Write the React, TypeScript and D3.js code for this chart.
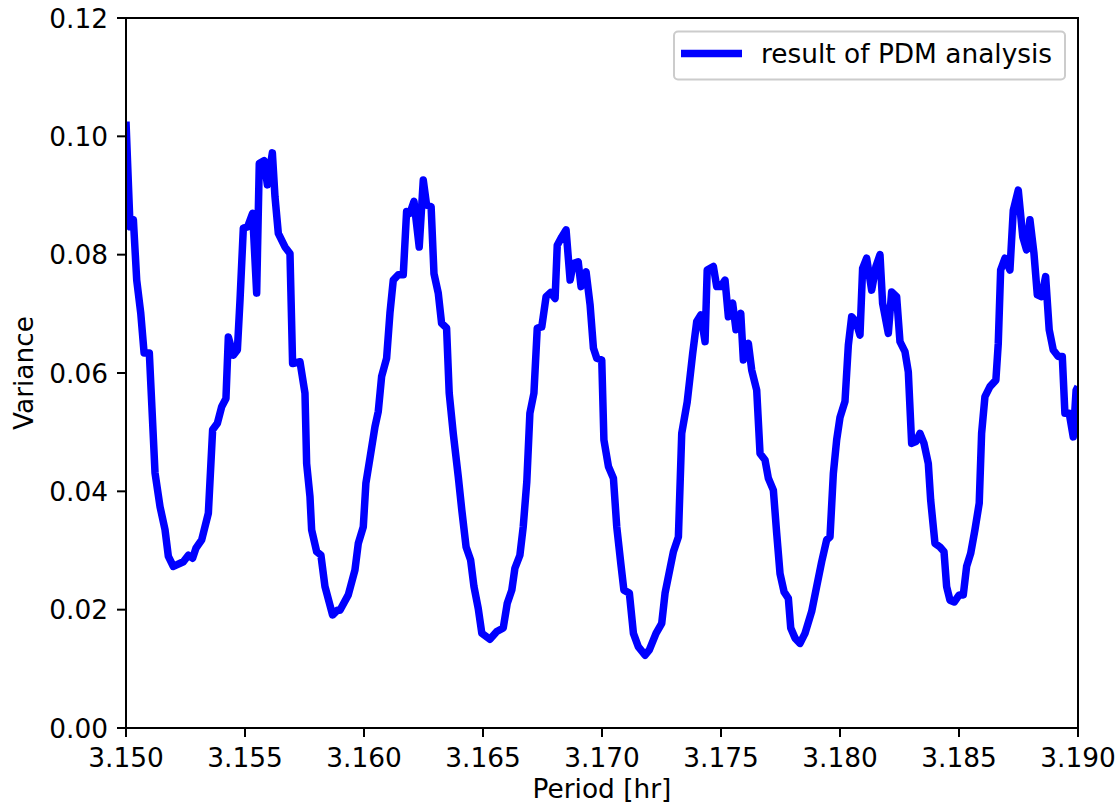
import React from "react";
import * as d3 from "d3";

const periods = [
  3.15, 3.15017, 3.15031, 3.15045, 3.15062, 3.15076, 3.15098, 3.15122, 3.15143, 3.15164,
  3.15178, 3.15199, 3.15241, 3.15262, 3.1528, 3.15294, 3.15318, 3.15346, 3.15364, 3.15384,
  3.15402, 3.1542, 3.1543, 3.15451, 3.15468, 3.15479, 3.15493, 3.15511, 3.15532, 3.15549,
  3.1556, 3.1558, 3.15594, 3.15615, 3.15626, 3.1564, 3.15668, 3.15689, 3.157, 3.15731,
  3.15752, 3.15759, 3.15773, 3.1578, 3.15801, 3.15819, 3.15836, 3.15868, 3.15888, 3.15899,
  3.15934, 3.15962, 3.15976, 3.15997, 3.16008, 3.16025, 3.16046, 3.1606, 3.16074, 3.16095,
  3.16109, 3.16123, 3.16144, 3.16165, 3.16179, 3.16193, 3.1621, 3.16232, 3.16249, 3.16263,
  3.16282, 3.16294, 3.16312, 3.16326, 3.16347, 3.16358, 3.16375, 3.16396, 3.16411, 3.16429,
  3.16448, 3.16462, 3.1648, 3.16495, 3.16529, 3.16558, 3.16585, 3.16602, 3.16621, 3.16634,
  3.16655, 3.16669, 3.16684, 3.16697, 3.16714, 3.16728, 3.16747, 3.16765, 3.16784, 3.16803,
  3.16812, 3.16831, 3.16849, 3.16866, 3.16879, 3.169, 3.16912, 3.16933, 3.1695, 3.16964,
  3.16978, 3.16999, 3.17008, 3.17027, 3.17048, 3.17062, 3.17079, 3.17092, 3.17115, 3.17132,
  3.17153, 3.17181, 3.17199, 3.17227, 3.17251, 3.17265, 3.17286, 3.173, 3.17321, 3.17335,
  3.17358, 3.17381, 3.17398, 3.17415, 3.17433, 3.17442, 3.17468, 3.17482, 3.17499, 3.17517,
  3.17531, 3.17549, 3.17563, 3.17583, 3.17594, 3.17615, 3.17629, 3.1765, 3.17664, 3.17685,
  3.17699, 3.1772, 3.17734, 3.17748, 3.17765, 3.17783, 3.17793, 3.17811, 3.17832, 3.17853,
  3.17881, 3.17902, 3.17923, 3.17944, 3.17958, 3.17972, 3.17986, 3.18, 3.18021, 3.18035,
  3.18049, 3.18067, 3.18084, 3.18095, 3.18112, 3.18133, 3.18151, 3.18168, 3.18179, 3.18203,
  3.18217, 3.18238, 3.18252, 3.18273, 3.18287, 3.18301, 3.18319, 3.18336, 3.18353, 3.18371,
  3.18381, 3.18399, 3.1842, 3.18437, 3.18448, 3.18462, 3.1848, 3.18501, 3.18518, 3.18532,
  3.18549, 3.18567, 3.18585, 3.18595, 3.18609, 3.1863, 3.18655, 3.18665, 3.18675, 3.18693,
  3.18714, 3.18728, 3.18749, 3.18768, 3.18784, 3.18798, 3.18815, 3.18829, 3.18847, 3.18864,
  3.18879, 3.18896, 3.18917, 3.18934, 3.18945, 3.18963, 3.1898, 3.18992, 3.19,
];

const variances = [
  0.1025, 0.0847, 0.0859, 0.0757, 0.0701, 0.0634, 0.0634, 0.0431, 0.0374, 0.0335,
  0.029, 0.0273, 0.0281, 0.0292, 0.0287, 0.0304, 0.0318, 0.0363, 0.0504, 0.0515,
  0.0543, 0.0557, 0.0661, 0.063, 0.0639, 0.0723, 0.0845, 0.0847, 0.087, 0.0735,
  0.0954, 0.0959, 0.0918, 0.0972, 0.0898, 0.0836, 0.0813, 0.0802, 0.0616, 0.0619,
  0.0566, 0.0447, 0.0391, 0.0335, 0.0298, 0.0292, 0.0239, 0.0191, 0.0199, 0.0199,
  0.0225, 0.0267, 0.0312, 0.034, 0.0414, 0.0456, 0.0509, 0.0535, 0.0594, 0.0625,
  0.0701, 0.0757, 0.0766, 0.0766, 0.0873, 0.087, 0.089, 0.0813, 0.0926, 0.0884,
  0.0881, 0.0768, 0.0735, 0.0684, 0.0676, 0.0566, 0.0498, 0.0425, 0.0368, 0.0306,
  0.0284, 0.0239, 0.0202, 0.016, 0.015, 0.0163, 0.0169, 0.0211, 0.0233, 0.027,
  0.0292, 0.034, 0.0416, 0.0532, 0.0566, 0.0676, 0.0678, 0.0729, 0.0736, 0.0726,
  0.0816, 0.083, 0.0842, 0.0757, 0.0785, 0.0788, 0.0746, 0.0771, 0.0715, 0.0642,
  0.0625, 0.0622, 0.0487, 0.0442, 0.0422, 0.034, 0.0278, 0.0233, 0.0228, 0.016,
  0.0137, 0.0123, 0.0132, 0.016, 0.0177, 0.0228, 0.027, 0.0298, 0.0323, 0.0498,
  0.0551, 0.0633, 0.0687, 0.0698, 0.0653, 0.0774, 0.078, 0.0746, 0.0746, 0.0757,
  0.0695, 0.0718, 0.0673, 0.0701, 0.0622, 0.065, 0.0605, 0.0571, 0.0464, 0.0453,
  0.0422, 0.0402, 0.0329, 0.0261, 0.023, 0.0219, 0.0169, 0.0152, 0.0143, 0.016,
  0.0197, 0.0239, 0.0281, 0.0318, 0.0323, 0.043, 0.0487, 0.0525, 0.0552, 0.0647,
  0.0695, 0.0687, 0.0664, 0.0777, 0.0794, 0.074, 0.078, 0.08, 0.0718, 0.0667,
  0.0737, 0.0729, 0.0653, 0.0636, 0.0602, 0.0481, 0.0484, 0.0498, 0.0481, 0.0447,
  0.0385, 0.0312, 0.0306, 0.0298, 0.0239, 0.0216, 0.0213, 0.0225, 0.0225, 0.0273,
  0.0295, 0.0335, 0.038, 0.0498, 0.056, 0.0577, 0.0588, 0.065, 0.0774, 0.0794,
  0.0774, 0.0875, 0.0909, 0.083, 0.0808, 0.0859, 0.0802, 0.0732, 0.0729, 0.0763,
  0.0673, 0.0639, 0.0628, 0.0628, 0.0532, 0.0532, 0.0492, 0.0571, 0.0577,
];

const xTicks = [3.15, 3.155, 3.16, 3.165, 3.17, 3.175, 3.18, 3.185, 3.19];
const yTicks = [0, 0.02, 0.04, 0.06, 0.08, 0.1, 0.12];
const seriesLabel = "result of PDM analysis";
const xLabel = "Period [hr]";
const yLabel = "Variance";

export default function App() {
  const W = 1120;
  const H = 808;
  const left = 126;
  const right = 1078;
  const top = 18;
  const bottom = 728;
  const fs = 26.4;
  const font = "'DejaVu Sans', sans-serif";

  const x = d3.scaleLinear().domain([3.15, 3.19]).range([left, right]);
  const y = d3.scaleLinear().domain([0, 0.12]).range([bottom, top]);
  const pts: [number, number][] = periods.map((p, i) => [p, variances[i]]);
  const line = d3
    .line<[number, number]>()
    .x((d) => x(d[0]))
    .y((d) => y(d[1]));

  return (
    <svg
      width={W}
      height={H}
      style={{ position: "absolute", left: 0, top: 0, background: "#fff" }}
    >
      <defs>
        <clipPath id="plotclip">
          <rect x={left} y={top} width={right - left} height={bottom - top} />
        </clipPath>
      </defs>
      <rect x={0} y={0} width={W} height={H} fill="#fff" />
      <path
        d={line(pts) || ""}
        fill="none"
        stroke="#0000ff"
        strokeWidth={7.5}
        strokeLinejoin="round"
        strokeLinecap="butt"
        clipPath="url(#plotclip)"
      />
      <rect
        x={left}
        y={top}
        width={right - left}
        height={bottom - top}
        fill="none"
        stroke="#000"
        strokeWidth={2}
      />
      {xTicks.map((t) => (
        <g key={"x" + t}>
          <line x1={x(t)} x2={x(t)} y1={bottom} y2={bottom + 9} stroke="#000" strokeWidth={2} />
          <text
            x={x(t)}
            y={767}
            textAnchor="middle"
            fontFamily={font}
            fontSize={fs}
            fill="#000"
          >
            {t.toFixed(3)}
          </text>
        </g>
      ))}
      {yTicks.map((t) => (
        <g key={"y" + t}>
          <line x1={left - 9} x2={left} y1={y(t)} y2={y(t)} stroke="#000" strokeWidth={2} />
          <text
            x={left - 18}
            y={y(t) + 9.6}
            textAnchor="end"
            fontFamily={font}
            fontSize={fs}
            fill="#000"
          >
            {t.toFixed(2)}
          </text>
        </g>
      ))}
      <text
        x={(left + right) / 2}
        y={798}
        textAnchor="middle"
        fontFamily={font}
        fontSize={fs}
        fill="#000"
      >
        {xLabel}
      </text>
      <text
        transform={`translate(33, ${(top + bottom) / 2}) rotate(-90)`}
        textAnchor="middle"
        fontFamily={font}
        fontSize={fs}
        fill="#000"
      >
        {yLabel}
      </text>
      <g>
        <rect
          x={674}
          y={31.5}
          width={391}
          height={48}
          rx={4}
          ry={4}
          fill="#fff"
          fillOpacity={0.8}
          stroke="#cccccc"
          strokeWidth={2}
        />
        <line x1={681} x2={742} y1={53.5} y2={53.5} stroke="#0000ff" strokeWidth={7.5} />
        <text x={761} y={63} fontFamily={font} fontSize={fs} fill="#000">
          {seriesLabel}
        </text>
      </g>
    </svg>
  );
}
